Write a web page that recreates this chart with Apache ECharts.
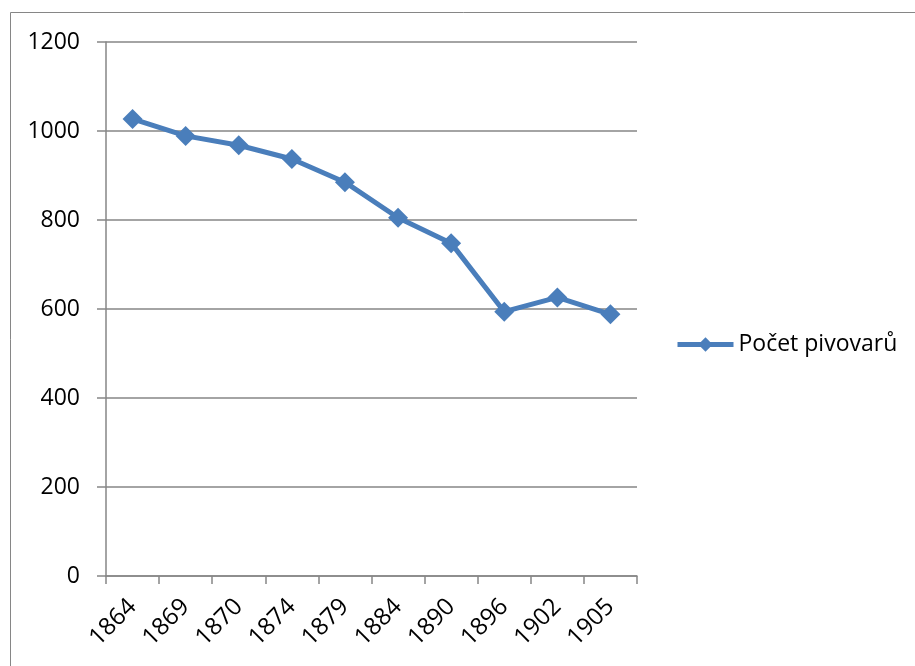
<!DOCTYPE html>
<html>
<head>
    <meta charset="utf-8">
    <title>Počet pivovarů</title>
    <script src="https://cdn.jsdelivr.net/npm/echarts@6/dist/echarts.min.js"></script>
    <style>
        body { margin: 0; background: #fff; }
    </style>
</head>
<body>
    <div id="main" style="width: 915px;height:666px;"></div>
    <script type="text/javascript">
        // roky a počty pivovarů
        var years = ['1864', '1869', '1870', '1874', '1879', '1884', '1890', '1896', '1902', '1905'];
        var breweries = [1027, 989, 968, 937, 885, 805, 748, 594, 626, 588];
        var yTicks = [0, 200, 400, 600, 800, 1000, 1200];

        var gray = '#868686';
        var blue = '#4a7ebb';
        var font = 'Open Sans';

        var myChart = echarts.init(document.getElementById('main'));
        var option = {
            animation: false,
            graphic: [{
                type: 'rect',
                shape: { x: 10.5, y: 12.5, width: 1000, height: 1000 },
                style: { fill: 'none', stroke: gray, lineWidth: 1 }
            }],
            grid: { left: 106, right: 278, top: 42, bottom: 90 },
            legend: {
                data: ['Počet pivovarů'],
                left: 670,
                top: 328,
                itemWidth: 56,
                itemHeight: 18,
                itemGap: 4,
                lineStyle: { width: 5 },
                textStyle: { fontFamily: font, fontSize: 23, color: '#000' }
            },
            xAxis: {
                type: 'category',
                data: years,
                boundaryGap: true,
                axisLine: { lineStyle: { color: gray, width: 1.5 } },
                axisTick: { show: true, length: 8, lineStyle: { color: gray, width: 1.5 } },
                axisLabel: { rotate: 45, margin: 27, fontFamily: font, fontSize: 24, color: '#000' }
            },
            yAxis: {
                type: 'value',
                min: yTicks[0],
                max: yTicks[yTicks.length - 1],
                interval: 200,
                axisLine: { show: true, lineStyle: { color: gray, width: 1.5 } },
                axisTick: { show: true, length: 9, lineStyle: { color: gray, width: 1.5 } },
                splitLine: { lineStyle: { color: gray, width: 1.5 } },
                axisLabel: {
                    margin: 26, fontFamily: font, fontSize: 23, color: '#000',
                    formatter: function (v) { return String(v); }
                }
            },
            series: [{
                name: 'Počet pivovarů',
                type: 'line',
                data: breweries,
                symbol: 'diamond',
                symbolSize: 20,
                lineStyle: { color: blue, width: 5 },
                itemStyle: { color: blue }
            }]
        };
        myChart.setOption(option);
    </script>
</body>
</html>
